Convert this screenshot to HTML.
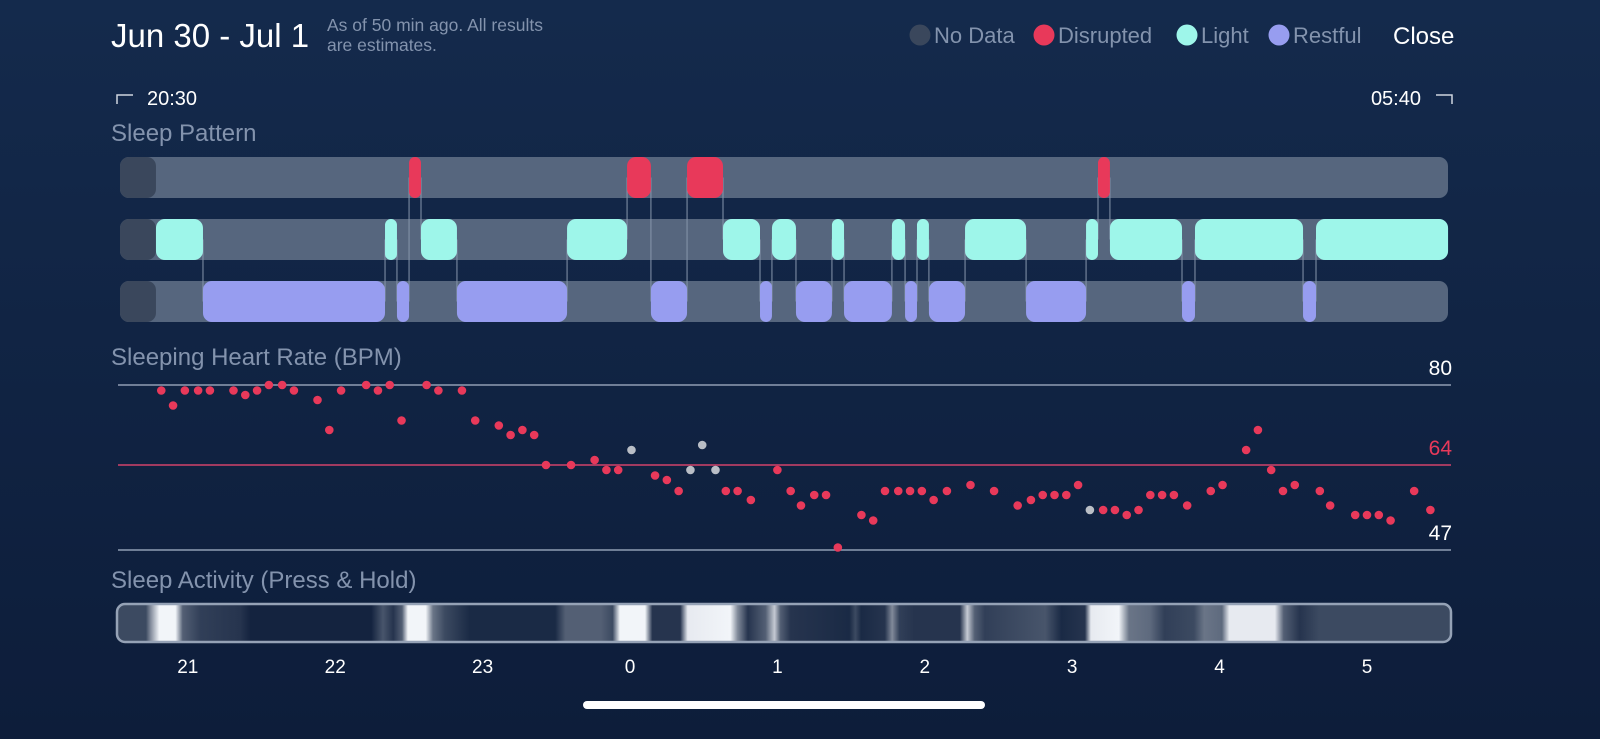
<!DOCTYPE html>
<html><head><meta charset="utf-8">
<style>
html,body{margin:0;padding:0;width:1600px;height:739px;overflow:hidden;background:linear-gradient(#142a4c,#0d1d3a);font-family:"Liberation Sans",sans-serif;}
svg{position:absolute;left:0;top:0;}
</style></head><body>
<svg id="chart" width="1600" height="739">
<defs><linearGradient id="actGrad" x1="0" x2="1" y1="0" y2="0"></linearGradient></defs>
<text x="111" y="47" font-size="33" fill="#ffffff">Jun 30 - Jul 1</text>
<text x="327" y="31" font-size="17.5" fill="#8393ad">As of 50 min ago. All results</text>
<text x="327" y="51" font-size="17.5" fill="#8393ad">are estimates.</text>
<g>
<circle cx="920" cy="35" r="10.5" fill="#3a475c"/>
<text x="934" y="43" font-size="22" fill="#8393ad">No Data</text>
<circle cx="1044" cy="35" r="10.5" fill="#e8395a"/>
<text x="1058" y="43" font-size="22" fill="#8393ad">Disrupted</text>
<circle cx="1187" cy="35" r="10.5" fill="#9ef6ea"/>
<text x="1201" y="43" font-size="22" fill="#8393ad">Light</text>
<circle cx="1279" cy="35" r="10.5" fill="#979df0"/>
<text x="1293" y="43" font-size="22" fill="#8393ad">Restful</text>
</g>
<text x="1393" y="44" font-size="24" fill="#ffffff">Close</text>
<path d="M117,104 V95 H133" stroke="#d0d6e0" stroke-width="1.5" fill="none"/>
<text x="147" y="105" font-size="20" fill="#ffffff">20:30</text>
<path d="M1436,95 H1452 V104" stroke="#d0d6e0" stroke-width="1.5" fill="none"/>
<text x="1421" y="105" font-size="20" fill="#ffffff" text-anchor="end">05:40</text>
<text x="111" y="141" font-size="24" fill="#8393ad">Sleep Pattern</text>
<text x="111" y="365" font-size="24" fill="#8393ad">Sleeping Heart Rate (BPM)</text>
<text x="111" y="588" font-size="24" fill="#8393ad">Sleep Activity (Press &amp; Hold)</text>
<g id="pattern"></g>
<g id="hr"></g>
<g id="act"></g>
<g id="xaxis"></g>
<rect x="583" y="701" width="402" height="8" rx="4" fill="#ffffff"/>
</svg>
<script>
// ---- data ----
const hourTicks = [21,22,23,0,1,2,3,4,5];
const tickOffsets = [-3,-2,-1,0,1,2,3,4,5];
const stageNames = ['L','R','L','R','D','L','R','L','D','R','D','L','R','L','R','L','R','L','R','L','R','L','R','L','D','L','R','L','R','L'];
const stageStarts = [-3.216,-2.897,-1.662,-1.581,-1.499,-1.418,-1.174,-0.427,-0.020,0.142,0.387,0.631,0.882,0.963,1.126,1.370,1.452,1.777,1.866,1.947,2.028,2.273,2.687,3.094,3.175,3.256,3.745,3.833,4.566,4.654];
const stageEnd = 5.550;
const hrTimes = [-3.18,-3.10,-3.02,-2.93,-2.85,-2.69,-2.61,-2.53,-2.45,-2.36,-2.28,-2.12,-2.04,-1.96,-1.79,-1.71,-1.63,-1.55,-1.38,-1.30,-1.14,-1.05,-0.89,-0.81,-0.73,-0.65,-0.57,-0.40,-0.24,-0.16,-0.08,0.01,0.17,0.25,0.33,0.41,0.49,0.58,0.65,0.73,0.82,
1.00,1.09,1.16,1.25,1.33,1.41,1.57,1.65,1.73,1.82,1.90,1.98,2.06,2.15,2.31,2.47,2.63,2.72,2.80,2.88,2.96,3.04,3.12,3.21,3.29,3.37,3.45,3.53,3.61,3.69,3.78,3.94,4.02,4.18,4.26,4.35,4.43,4.51,4.68,4.75,4.92,5.00,5.08,5.16,5.32,5.43];
const hrValues = [78.9,75.9,78.9,78.9,78.9,78.9,78.0,78.9,80,80,78.9,77,71,78.9,80,78.9,80,72.9,80,78.9,78.9,72.9,71.9,70,71,70,64,64,65,63,63,67,61.9,61,58.8,63,68,63,58.8,58.8,57,
63,58.8,55.9,58,58,47.5,54,52.9,58.8,58.8,58.8,58.8,57,58.8,60,58.8,55.9,57,58,58,58,60,55,55,55,54,55,58,58,58,55.9,58.8,60,67,71,63,58.8,60,58.8,55.9,54,54,54,52.9,58.8,55];
const hrGray = [31,35,36,37,63];
const refLines = [80,64,47];
const actTimes = [-3.47,-3.29,-3.26,-3.20,-3.09,-3.04,-2.92,-2.65,-2.58,-1.76,-1.68,-1.61,-1.55,-1.51,-1.39,-1.34,-1.26,-1.09,-0.51,-0.44,-0.20,-0.12,-0.07,0.10,0.15,0.34,0.39,0.68,0.73,0.80,0.92,0.98,1.02,1.09,1.49,1.53,1.57,1.73,1.78,1.83,1.93,2.24,2.29,2.34,2.41,2.82,2.93,3.09,3.13,3.32,3.39,3.53,3.63,3.83,3.90,4.02,4.07,4.38,4.44,4.55,4.68,5.56];
const actLevels = [0.2,0.2,0.5,1,1,0.3,0.15,0.1,0.02,0.02,0.25,0.1,0.3,1,1,0.4,0.2,0.05,0.05,0.3,0.3,0.2,1,1,0.1,0.1,0.95,1,0.5,0.1,0.3,0.8,0.3,0.1,0.05,0.2,0.05,0.1,0.5,0.15,0.1,0.1,0.8,0.3,0.15,0.25,0.05,0.1,0.95,1,0.4,0.35,0.15,0.2,0.4,0.35,0.95,0.95,0.3,0.1,0.2,0.2];

// ---- scales ----
const NS='http://www.w3.org/2000/svg';
const xS = h => 630 + h*147.4;
const yS = v => 385 + (80 - v)*5;
const X0 = 120, X1 = 1448;
function mk(tag, attrs, parent){const e=document.createElementNS(NS,tag);for(const k in attrs)e.setAttribute(k,attrs[k]);parent.appendChild(e);return e;}

// ---- sleep pattern ----
const pat=document.getElementById('pattern');
const rowY={D:157,L:219,R:281}; const RH=41;
const col={D:'#e8395a',L:'#9ef6ea',R:'#979df0'};
['D','L','R'].forEach(k=>{
  const bg=mk('rect',{x:X0,y:rowY[k],width:X1-X0,height:RH,rx:9,fill:'#56667e'},pat);
  
  
  const nd=mk('rect',{x:X0,y:rowY[k],width:xS(stageStarts[0])-X0,height:RH,rx:9,fill:'#3a475c'},pat);
  
  
});
for(let i=1;i<stageNames.length;i++){
  const x=xS(stageStarts[i]);
  const a=rowY[stageNames[i-1]]+RH/2, b=rowY[stageNames[i]]+RH/2;
  const ln=mk('line',{x1:x,x2:x,y1:a,y2:b,stroke:'#8796ac','stroke-width':1},pat);
  
  
}
for(let i=0;i<stageNames.length;i++){
  const s=stageStarts[i], e=(i+1<stageStarts.length)?stageStarts[i+1]:stageEnd;
  const w=xS(e)-xS(s);
  const r=mk('rect',{x:xS(s),y:rowY[stageNames[i]],width:w,height:RH,rx:Math.min(9,w/2),fill:col[stageNames[i]]},pat);
  
  
}

// ---- heart rate ----
const hr=document.getElementById('hr');
const lineCol={80:'#8f9db3',64:'#d2426a',47:'#8f9db3'};
const labCol={80:'#ffffff',64:'#e8395a',47:'#ffffff'};
refLines.forEach(v=>{
  const l=mk('line',{x1:118,x2:1451,y1:yS(v),y2:yS(v),stroke:lineCol[v],'stroke-width':1.6},hr);
  
  
  const t=mk('text',{x:1452,y:yS(v)-10,'font-size':21,fill:labCol[v],'text-anchor':'end'},hr);
  t.textContent=v;
  
  
});
hrTimes.forEach((t,i)=>{
  const c=mk('circle',{cx:xS(t),cy:yS(hrValues[i]),r:4.3,fill:hrGray.includes(i)?'#b9bec6':'#e8395a'},hr);
  
  
});

// ---- activity strip ----
const grad=document.getElementById('actGrad');
const xa=116, xb=1452;
const c0=[15,31,59], c1=[242,245,249];
actTimes.forEach((t,i)=>{
  const L=actLevels[i];
  const cc=c0.map((v,j)=>Math.round(v+(c1[j]-v)*L));
  mk('stop',{offset:((xS(t)-xa)/(xb-xa)).toFixed(4),'stop-color':`rgb(${cc})`},grad);
});
const act=document.getElementById('act');
const ar=mk('rect',{x:xa+1,y:604,width:xb-xa-2,height:38,rx:8,fill:'url(#actGrad)',stroke:'#95a2b6','stroke-width':2.5},act);



// ---- x axis ----
const xa_=document.getElementById('xaxis');
hourTicks.forEach((h,i)=>{
  const t=mk('text',{x:xS(tickOffsets[i]),y:673,'font-size':19,fill:'#ffffff','text-anchor':'middle'},xa_);
  t.textContent=h;
  
  
});
</script>
</body></html>
